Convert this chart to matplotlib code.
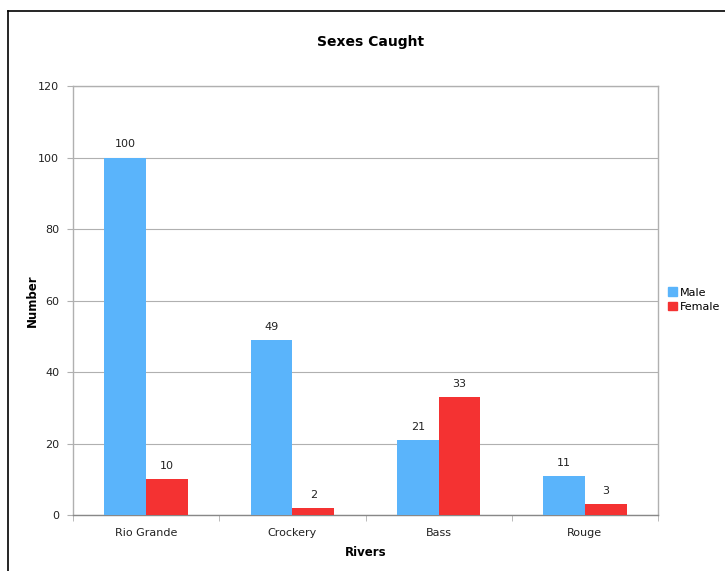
import numpy as np
import matplotlib.pyplot as plt
from matplotlib.lines import Line2D
from matplotlib.patches import Patch

rivers = ['Rio Grande', 'Crockery', 'Bass', 'Rouge']
male = [100, 49, 21, 11]
female = [10, 2, 33, 3]
yticks = [0, 20, 40, 60, 80, 100, 120]

blue = '#5ab4fb'
red = '#f43232'
grid_col = '#b0b0b0'

fig = plt.figure(figsize=(7.25, 5.71), dpi=100)
ax = fig.add_axes([0.1007, 0.098, 0.8069, 0.751])

x = np.arange(len(rivers))
w = 0.285
ax.bar(x - w / 2, male, w, color=blue, zorder=3)
ax.bar(x + w / 2, female, w, color=red, zorder=3)

for xi, v in zip(x, male):
    ax.text(xi - w / 2, v + 2.3, str(v), ha='center', va='bottom', fontsize=8, color='#222222')
for xi, v in zip(x, female):
    ax.text(xi + w / 2, v + 2.3, str(v), ha='center', va='bottom', fontsize=8, color='#222222')

ax.set_xlim(-0.5, len(rivers) - 0.5)
ax.set_ylim(0, 120)
ax.set_yticks(yticks)
ax.set_yticklabels([str(t) for t in yticks], fontsize=8, color='#222222')
ax.yaxis.grid(True, color=grid_col, linewidth=0.8, zorder=0)
ax.set_xticks(x)
ax.set_xticklabels(rivers, fontsize=8, color='#222222')
ax.tick_params(axis='x', length=0, pad=9)
ax.set_xticks(np.arange(len(rivers) + 1) - 0.5, minor=True)
ax.tick_params(axis='x', which='minor', length=4, color=grid_col, direction='out')
ax.tick_params(axis='y', length=4, color=grid_col, pad=6)

for s in ax.spines.values():
    s.set_color(grid_col)
    s.set_linewidth(1.0)
ax.spines['bottom'].set_color('#888888')

ax.set_xlabel('Rivers', fontsize=8.5, fontweight='bold', labelpad=6)
ax.set_ylabel('Number', fontsize=8.5, fontweight='bold')
ax.yaxis.set_label_coords(-0.058, 0.5)
fig.text(0.511, 0.926, 'Sexes Caught', ha='center', va='center', fontsize=10, fontweight='bold')

handles = [Patch(color=blue), Patch(color=red)]
fig.legend(handles, ['Male', 'Female'], loc='center left', bbox_to_anchor=(0.915, 0.475),
           frameon=False, fontsize=8, handlelength=0.8, handleheight=0.8,
           handletextpad=0.3, labelspacing=0.4, borderaxespad=0)

# outer frame lines (top and left)
fig.add_artist(Line2D([0.011, 1.0], [0.981, 0.981], color='black', linewidth=1.2, transform=fig.transFigure))
fig.add_artist(Line2D([0.011, 0.011], [0.0, 0.981], color='black', linewidth=1.2, transform=fig.transFigure))

fig.savefig('out.png', dpi=100)
